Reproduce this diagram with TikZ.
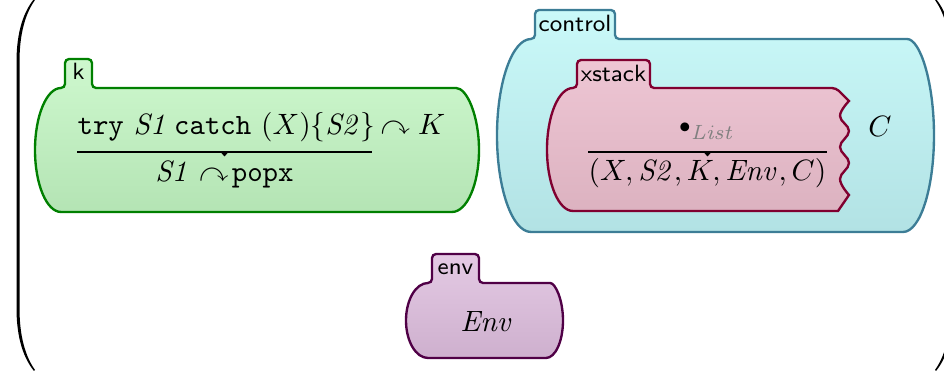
\documentclass[tikz,border=0pt]{standalone}
\usepackage{amssymb}
\definecolor{kgreenline}{RGB}{0,128,0}
\definecolor{kgreentop}{RGB}{206,248,206}
\definecolor{kgreenbot}{RGB}{180,228,180}
\definecolor{kcyanline}{RGB}{60,125,150}
\definecolor{kcyantop}{RGB}{202,249,249}
\definecolor{kcyanbot}{RGB}{178,226,228}
\definecolor{kpinkline}{RGB}{128,0,48}
\definecolor{kpinktop}{RGB}{238,198,212}
\definecolor{kpinkbot}{RGB}{220,178,192}
\definecolor{kenvline}{RGB}{80,0,70}
\definecolor{kenvtop}{RGB}{228,202,228}
\definecolor{kenvbot}{RGB}{206,176,206}
\tikzstyle{greencell}=[draw=kgreenline,line width=0.8pt,top color=kgreentop,bottom color=kgreenbot]
\tikzstyle{cyancell}=[draw=kcyanline,line width=0.8pt,top color=kcyantop,bottom color=kcyanbot]
\tikzstyle{pinkcell}=[draw=kpinkline,line width=0.8pt,top color=kpinktop,bottom color=kpinkbot]
\tikzstyle{envcell}=[draw=kenvline,line width=0.8pt,top color=kenvtop,bottom color=kenvbot]
\tikzstyle{tab}=[font=\sffamily\footnotesize,anchor=base,inner sep=0pt]
\tikzstyle{cont}=[anchor=base,inner sep=0pt]
\tikzstyle{wedge}=[fill=black]
% cell: style, left, top, right, bottom, tab left, tab right, tab top, right bulge
\newcommand{\kcell}[9]{%
  \path[#1] ({#6-4},#3) [rounded corners=1.4pt] -- (#6,#3) -- (#6,#8) -- (#7,#8) -- (#7,#3) -- ({#4-#9},#3) [sharp corners]
    .. controls ({#4-0.448*#9},#3) and (#4,{#3+0.224*(#5-#3)}) .. (#4,{0.5*(#3+#5)})
    .. controls (#4,{#5-0.224*(#5-#3)}) and ({#4-0.448*#9},#5) .. ({#4-#9},#5)
    -- ({#6-4},#5)
    .. controls ({#2+0.448*(#6-4-#2)},#5) and (#2,{#5-0.224*(#5-#3)}) .. (#2,{0.5*(#3+#5)})
    .. controls (#2,{#3+0.224*(#5-#3)}) and ({#2+0.448*(#6-4-#2)},#3) .. ({#6-4},#3) -- cycle;}

\begin{document}
\begin{tikzpicture}[x=0.34pt,y=-0.34pt]
  \useasboundingbox (0,0) rectangle (944,374);
  \clip (0,0) rectangle (944,374);

  % outer delimiters
  \fill (34,-1) .. controls (21,15) and (16.5,38) .. (16.5,62) -- (16.5,308)
    .. controls (16.5,332) and (21,355) .. (34,371) -- (35,370)
    .. controls (23,353) and (19.5,330) .. (19.5,308) -- (19.5,62)
    .. controls (19.5,40) and (23,17) .. (35,0) -- cycle;
  \fill (936,-1) .. controls (949,15) and (953.5,38) .. (953.5,62) -- (953.5,308)
    .. controls (953.5,332) and (949,355) .. (936,371) -- (935,370)
    .. controls (947,353) and (950.5,330) .. (950.5,308) -- (950.5,62)
    .. controls (950.5,40) and (947,17) .. (935,0) -- cycle;

  % cells
  \kcell{greencell}{35}{88}{479}{212}{65}{92}{59}{27}
  \kcell{cyancell}{497}{39}{934}{232}{535}{615}{10}{31}
  \path[pinkcell] (573,88) [rounded corners=1.4pt] -- (577,88) -- (577,60) -- (650,60) -- (650,88) -- (836,88) [sharp corners]
    -- (849,101) -- plot[smooth,tension=0.7] coordinates {(849,101) (840,116) (849,131) (840,147) (849,163) (840,179) (849,195)}
    -- (838,211) -- (573,211) .. controls (558.6,211) and (547,183.4) .. (547,149.5)
    .. controls (547,115.6) and (558.6,88) .. (573,88) -- cycle;
  \kcell{envcell}{406}{283}{563}{358}{432}{479}{254}{17}

  % tab labels
  \node[tab] (ktab) at (78.5,80) {k};
  \node[tab] (controltab) at (575,32) {control};
  \node[tab] (xstacktab) at (613.5,81.5) {xstack};
  \node[tab] (envtab) at (455.5,275) {env};

  % k cell
  \node[cont,anchor=base west] (tryredex) at (77,135) {$\texttt{try}\ \mathit{S1}\,\texttt{catch}\ (X)\{\mathit{S2}\}$};
  \node[cont,anchor=base west] (kontk) at (380,135) {$\curvearrowright K$};
  \node[cont] (tryreduct) at (224.5,182) {$\mathit{S1} \curvearrowright\!\texttt{popx}$};
  \draw (77,152) -- (372,152);
  \fill[wedge] (220.5,152) -- (228.5,152) -- (224.5,156.5) -- cycle;

  % control cell
  \node[cont] (xredex) at (707,135) {$\vcenter{\hbox{$\scriptstyle\bullet$}}_{\textcolor{gray}{\mathit{List}}}$};
  \node[cont] (xreduct) at (707.5,181) {$(X, \mathit{S2}, K, \mathit{Env}, C)$};
  \draw (588,152) -- (827,152);
  \fill[wedge] (703.5,152) -- (711.5,152) -- (707.5,156.5) -- cycle;
  \node[cont] (crest) at (880,137) {$C$};

  % env cell
  \node[cont] (envval) at (487,332) {$\mathit{Env}$};
\end{tikzpicture}
\end{document}
